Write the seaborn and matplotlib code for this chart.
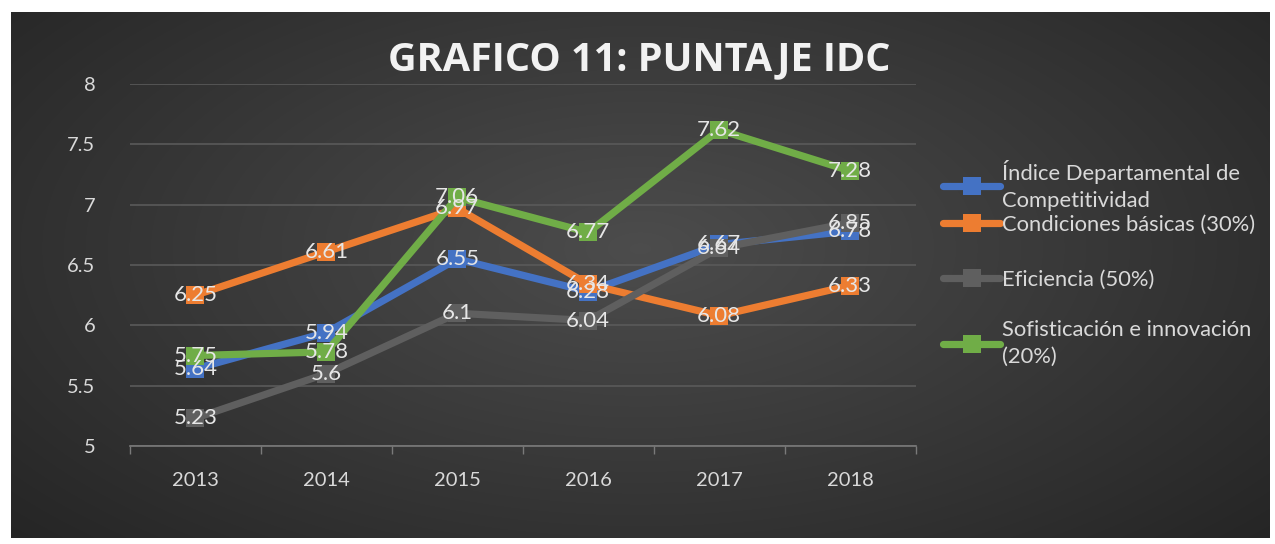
import numpy as np
import pandas as pd
import matplotlib
matplotlib.use("Agg")
import matplotlib.pyplot as plt
import seaborn as sns

years = ["2013", "2014", "2015", "2016", "2017", "2018"]
idc = [5.64, 5.94, 6.55, 6.28, 6.67, 6.78]
basicas = [6.25, 6.61, 6.97, 6.34, 6.08, 6.33]
eficiencia = [5.23, 5.6, 6.1, 6.04, 6.64, 6.85]
sofisticacion = [5.75, 5.78, 7.06, 6.77, 7.62, 7.28]

series_names = ["Índice Departamental de\nCompetitividad",
                "Condiciones básicas (30%)",
                "Eficiencia (50%)",
                "Sofisticación e innovación\n(20%)"]
series_values = [idc, basicas, eficiencia, sofisticacion]
colors = ["#4472C4", "#ED7D31", "#5f5f5f", "#70AD47"]

rows = []
for name, vals in zip(series_names, series_values):
    for i, (y, v) in enumerate(zip(years, vals)):
        rows.append({"pos": i, "year": y, "serie": name, "valor": v})
df = pd.DataFrame(rows)

sns.set_theme(style="dark")
plt.rcParams["font.family"] = ["Lato", "DejaVu Sans"]

W, H = 1275, 544
fig = plt.figure(figsize=(W / 100, H / 100), dpi=100)
fig.patch.set_facecolor("white")

# background gradient panel
bg = fig.add_axes([11 / W, 1 - 538 / H, (1270 - 11) / W, (538 - 12) / H])
yy, xx = np.mgrid[0:1:300j, 0:1:700j]
d = np.sqrt(((xx - 0.5) / 0.75) ** 2 + ((yy - 0.45) / 0.9) ** 2)
val = 0.30 - 0.17 * np.clip(d, 0, 1)
img = np.dstack([val, val, val])
bg.imshow(img, aspect="auto", extent=[0, 1, 0, 1], interpolation="bilinear")
bg.set_axis_off()

ax = fig.add_axes([130 / W, 1 - 446 / H, (915.5 - 130) / W, (446 - 84) / H])
ax.patch.set_alpha(0)

sns.lineplot(data=df, x="pos", y="valor", hue="serie", hue_order=series_names,
             palette=colors, marker="s", markersize=13.5, markeredgewidth=0,
             linewidth=5.2, ax=ax, legend=False, sort=False)

ax.set_xlim(-0.5, 5.5)
ax.set_ylim(5, 8)
ax.set_yticks(np.arange(5, 8.01, 0.5))
ax.set_yticklabels(["5", "5.5", "6", "6.5", "7", "7.5", "8"])
ax.set_xticks(range(len(years)))
ax.set_xticklabels(years)
ax.set_xticks(np.arange(-0.5, 5.6, 1), minor=True)
ax.tick_params(axis="x", which="minor", length=6, color="#7a7a7a", width=1, direction="out", bottom=True)
ax.tick_params(axis="x", which="major", length=0, pad=19, labelsize=14.5, labelcolor="#d9d9d9")
ax.tick_params(axis="y", length=0, pad=25, labelsize=14.5, labelcolor="#d9d9d9")
ax.set_xlabel("")
ax.set_ylabel("")
ax.grid(axis="y", color="#5a5a5a", linewidth=1.2)
ax.grid(axis="x", visible=False)
for s in ["top", "right", "left"]:
    ax.spines[s].set_visible(False)
ax.spines["bottom"].set_color("#7a7a7a")
ax.spines["bottom"].set_linewidth(1.2)

for name, vals in zip(series_names, series_values):
    for i, v in enumerate(vals):
        ax.annotate(f"{v:g}", (i, v), xytext=(0, 0), textcoords="offset points",
                    ha="center", va="center", fontsize=16, color="#e6e6e6", zorder=5)

handles = ax.get_lines()[:4]
leg_kw = dict(loc="upper left", frameon=False, fontsize=15.8, labelcolor="#d9d9d9",
              handlelength=2.6, handletextpad=0.1, borderpad=0, borderaxespad=0)
leg1 = fig.legend(handles[:2], series_names[:2], bbox_to_anchor=(943 / W, 1 - 160 / H),
                  labelspacing=0.15, **leg_kw)
for t in leg1.get_texts():
    t.set_linespacing(1.45)
leg2 = fig.legend(handles[2:], series_names[2:], bbox_to_anchor=(943 / W, 1 - 270 / H),
                  labelspacing=1.37, **leg_kw)
for t in leg2.get_texts():
    t.set_linespacing(1.45)

fig.text(639 / W, 1 - 60 / H, "GRAFICO 11: PUNTAJE IDC", ha="center", va="center",
         fontsize=28.5, fontweight="bold", color="#f2f2f2", family=["Open Sans", "DejaVu Sans"])

fig.savefig("out.png", dpi=100, facecolor=fig.get_facecolor())
